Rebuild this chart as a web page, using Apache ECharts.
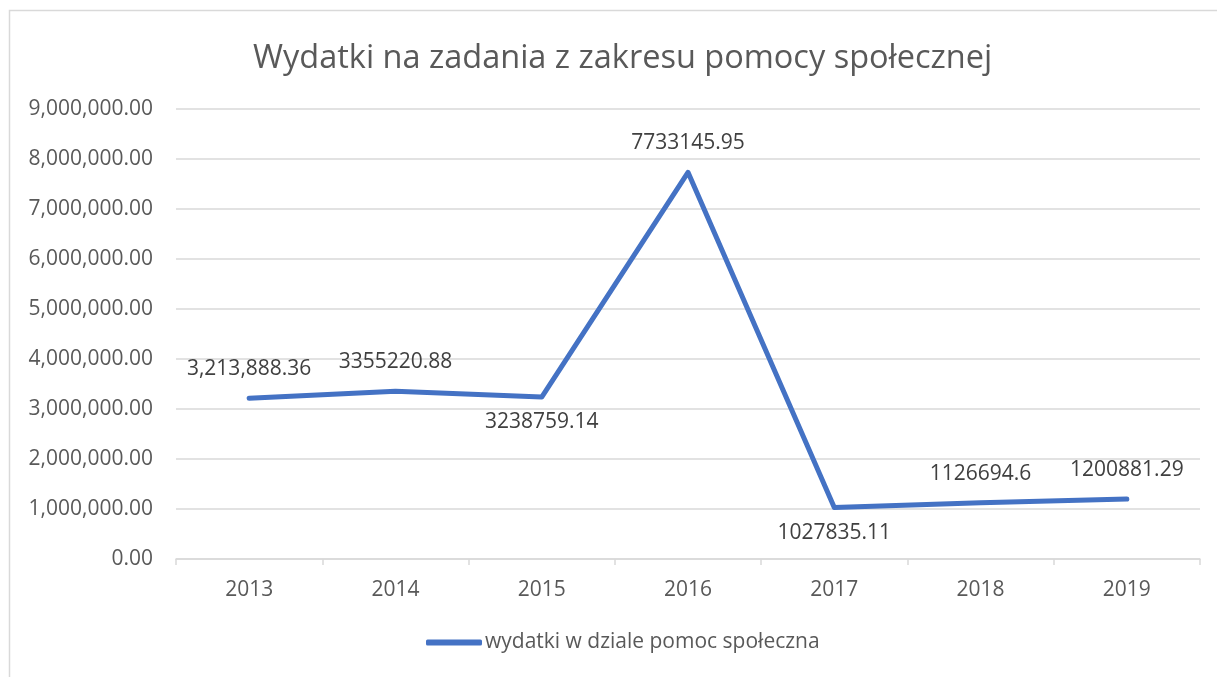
<!DOCTYPE html>
<html>
<head>
<meta charset="utf-8">
<script src="https://cdn.jsdelivr.net/npm/echarts@6/dist/echarts.min.js"></script>
<style>
  html, body { margin: 0; padding: 0; background: #fff; }
  #chart { width: 1217px; height: 677px; }
</style>
</head>
<body>
<div id="chart"></div>
<script type="text/javascript">
    // dane z wykresu
    var years = ['2013', '2014', '2015', '2016', '2017', '2018', '2019'];
    var wydatki = [3213888.36, 3355220.88, 3238759.14, 7733145.95, 1027835.11, 1126694.6, 1200881.29];
    var etykiety = ['3,213,888.36', '3355220.88', '3238759.14', '7733145.95', '1027835.11', '1126694.6', '1200881.29'];
    var pozycje = ['top', 'top', 'bottom', 'top', 'bottom', 'top', 'top'];

    var font = '"Open Sans", sans-serif';

    function fmt(v) {
        return v.toFixed(2).replace(/\B(?=(\d{3})+(?!\d))/g, ',');
    }

    var points = [];
    for (var i = 0; i < wydatki.length; i++) {
        points.push({
            value: wydatki[i],
            label: {
                position: pozycje[i],
                distance: pozycje[i] == 'top' ? 18 : 14,
                formatter: etykiety[i]
            }
        });
    }

    var myChart = echarts.init(document.getElementById('chart'));
    myChart.setOption({
        animation: false,
        graphic: [{
            type: 'rect',
            shape: { x: 9.5, y: 10.5, width: 1300, height: 800 },
            style: { fill: 'none', stroke: '#d9d9d9', lineWidth: 1.5 },
            silent: true
        }],
        title: {
            text: 'Wydatki na zadania z zakresu pomocy społecznej',
            left: 248,
            top: 37,
            textStyle: { fontFamily: font, fontSize: 32.5, fontWeight: 'normal', color: '#595959' }
        },
        legend: {
            bottom: 19,
            left: 421,
            itemWidth: 56,
            itemHeight: 6,
            itemGap: 4,
            icon: 'roundRect',
            itemStyle: { color: '#4472c4', opacity: 1 },
            data: ['wydatki w dziale pomoc społeczna'],
            textStyle: { fontFamily: font, fontSize: 21, color: '#595959', padding: [0, 0, 0, -2] }
        },
        grid: { left: 176, right: 17, top: 109, bottom: 118, containLabel: false },
        xAxis: {
            type: 'category',
            data: years,
            boundaryGap: true,
            axisLine: { lineStyle: { color: '#d9d9d9', width: 1.5 } },
            axisTick: { show: true, length: 6, lineStyle: { color: '#d9d9d9', width: 1.5 } },
            axisLabel: { fontFamily: font, fontSize: 21, color: '#595959', margin: 21 }
        },
        yAxis: {
            type: 'value',
            min: 0,
            max: 9000000,
            interval: 1000000,
            axisLine: { show: false },
            axisTick: { show: false },
            splitLine: { lineStyle: { color: '#d9d9d9', width: 1.5 } },
            axisLabel: {
                fontFamily: font, fontSize: 21, color: '#595959', margin: 23,
                formatter: function (v) { return fmt(v); }
            }
        },
        series: [{
            name: 'wydatki w dziale pomoc społeczna',
            type: 'line',
            data: points,
            symbol: 'circle',
            symbolSize: 1,
            showSymbol: true,
            lineStyle: { color: '#4472c4', width: 5, cap: 'round', join: 'round' },
            itemStyle: { color: '#4472c4' },
            label: {
                show: true,
                fontFamily: font,
                fontSize: 21,
                color: '#404040'
            }
        }]
    });
</script>
</body>
</html>
